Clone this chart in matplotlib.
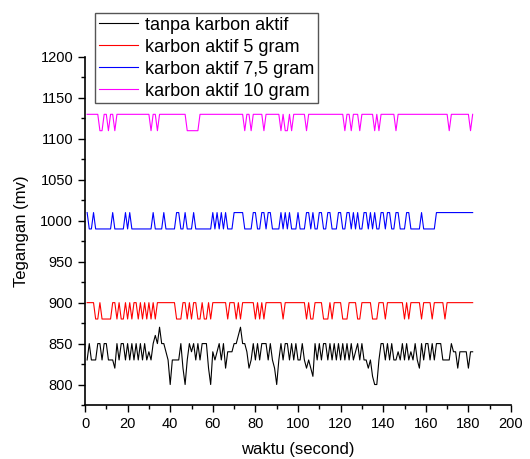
import numpy as np
import matplotlib
matplotlib.use('Agg')
import matplotlib.pyplot as plt
from matplotlib.ticker import MultipleLocator

plt.rcParams['font.family'] = ['Liberation Sans', 'DejaVu Sans']

# waktu (detik) 1..182
waktu = np.arange(1, 183)

# tanpa karbon aktif
tanpa_karbon = [
    830, 850, 830, 830, 830, 850, 850, 830, 850, 850,
    830, 830, 830, 820, 850, 830, 850, 850, 830, 850,
    830, 850, 830, 850, 830, 850, 830, 850, 830, 840,
    830, 850, 860, 850, 870, 850, 850, 840, 830, 800,
    830, 830, 830, 830, 850, 820, 800, 830, 850, 840,
    850, 830, 850, 830, 850, 850, 850, 820, 800, 840,
    830, 840, 850, 830, 850, 820, 840, 840, 840, 850,
    850, 860, 870, 850, 850, 840, 820, 830, 850, 830,
    850, 830, 850, 850, 850, 830, 850, 830, 820, 800,
    830, 850, 830, 850, 850, 830, 850, 830, 850, 830,
    830, 850, 830, 820, 830, 820, 810, 850, 830, 850,
    830, 850, 850, 830, 850, 830, 850, 830, 850, 830,
    850, 830, 850, 830, 850, 830, 840, 850, 830, 850,
    830, 830, 820, 830, 810, 800, 800, 830, 850, 850,
    830, 850, 830, 850, 830, 830, 840, 830, 850, 830,
    850, 830, 840, 830, 850, 830, 820, 850, 830, 850,
    850, 830, 850, 830, 850, 850, 850, 830, 830, 830,
    830, 850, 840, 840, 820, 840, 840, 840, 840, 820,
    840, 840,
]

# karbon aktif 5 gram
karbon_5 = ([900] * 4 + [880] * 2 + [900] + [880] * 5 + [900] * 2 + [880] + [900]
            + [880] * 2 + [900] + [880] + [900] + [880] + [900] * 2 + [880] + [900]
            + [880] + [900] + [880] + [900] + [880] + [900] + [880] + [900] * 9
            + [880] * 3 + [900] * 2 + [880] + [900] + [880] + [900] * 2 + [880] * 2
            + [900] + [880] * 2 + [900] + [880] + [900] * 7 + [880] + [900] * 3
            + [880] + [900] + [880] + [900] * 6 + [880] + [900] + [880] + [900]
            + [880] + [900] * 8 + [880] + [900] * 10 + [880] + [900] + [880] * 2
            + [900] * 4 + [880] * 3 + [900] + [880] + [900] * 4 + [880] * 3
            + [900] * 4 + [880] * 2 + [900] * 5 + [880] * 3 + [900] * 3 + [880]
            + [900] * 8 + [880] + [900] + [880] + [900] * 5 + [880] + [900] * 4
            + [880] + [900] * 5 + [880] + [900] * 13)

# karbon aktif 7,5 gram
karbon_75 = ([1010] + [990] * 2 + [1010] + [990] * 8 + [1010] + [990] * 5 + [1010]
             + [990] + [1010] + [990] * 10 + [1010] + [990] * 4 + [1010] + [990] * 5
             + [1010] * 2 + [990] * 2 + [1010] + [990] * 3 + [1010] + [990] * 8
             + [1010] + [990] + [1010] + [990] + [1010] + [990] + [1010] + [990] * 3
             + [1010] * 5 + [990] * 4 + [1010] * 2 + [990] * 2 + [1010] * 2 + [990]
             + [1010] * 2 + [990] * 4 + [1010] + [990] + [1010] + [990] + [1010]
             + [990] * 3 + [1010] + [990] * 3 + [1010] * 2 + [990] + [1010]
             + [990] * 2 + [1010] * 2 + [990] * 2 + [1010] * 2 + [990] * 3
             + [1010] * 2 + [990] * 2 + [1010] * 2 + [990] + [1010] + [990] + [1010]
             + [990] * 2 + [1010] * 2 + [990] + [1010] + [990] + [1010] + [990] * 2
             + [1010] * 2 + [990] + [1010] * 2 + [990] * 2 + [1010] * 2 + [990] * 3
             + [1010] * 2 + [990] * 5 + [1010] + [990] * 6 + [1010] * 18)

# karbon aktif 10 gram
karbon_10 = ([1130] * 6 + [1110] * 2 + [1130] * 2 + [1110] + [1130] * 2 + [1110]
             + [1130] * 16 + [1110] + [1130] * 2 + [1110] + [1130] * 13 + [1110] * 6
             + [1130] * 21 + [1110] + [1130] * 2 + [1110] + [1130] * 5 + [1110]
             + [1130] * 7 + [1110] + [1130] + [1110] * 2 + [1130] + [1110]
             + [1130] * 6 + [1110] + [1130] * 17 + [1110] + [1130] * 2 + [1110]
             + [1130] * 3 + [1110] + [1130] * 6 + [1110] + [1130] + [1110]
             + [1130] * 7 + [1110] + [1130] * 24 + [1110] + [1130] * 9 + [1110]
             + [1130])

label_seri = ['tanpa karbon aktif', 'karbon aktif 5 gram',
              'karbon aktif 7,5 gram', 'karbon aktif 10 gram']
warna = ['black', '#ff0000', '#0000ff', '#ff00ff']

fig = plt.figure(figsize=(5.3, 4.59), dpi=100)
ax = fig.add_axes([85 / 530, 54 / 459, 426 / 530, 348 / 459])

for y, lbl, c in zip([tanpa_karbon, karbon_5, karbon_75, karbon_10], label_seri, warna):
    ax.plot(waktu, y, color=c, lw=0.8, label=lbl)

ax.set_xlim(0, 200)
ax.set_ylim(775, 1200)
ax.xaxis.set_major_locator(MultipleLocator(20))
ax.xaxis.set_minor_locator(MultipleLocator(10))
ax.set_yticks(np.arange(800, 1201, 50))
ax.yaxis.set_minor_locator(MultipleLocator(25))
ax.tick_params(which='major', direction='out', length=5, width=1, labelsize=10.5)
ax.tick_params(which='minor', direction='out', length=3, width=1)
for s in ['top', 'right']:
    ax.spines[s].set_visible(False)
for s in ['left', 'bottom']:
    ax.spines[s].set_linewidth(1.2)

ax.set_xlabel('waktu (second)', fontsize=12, labelpad=8)
ax.set_ylabel('Tegangan (mv)', fontsize=12, labelpad=8)

leg = fig.legend(loc='upper left', bbox_to_anchor=(95 / 530, 1 - 13 / 459),
                 fontsize=13, fancybox=False, edgecolor='#555555', framealpha=1,
                 handlelength=2.2, handletextpad=0.35, borderpad=0.2,
                 labelspacing=0.28, borderaxespad=0)
leg.get_frame().set_linewidth(1)

fig.savefig('out.png', dpi=100)
